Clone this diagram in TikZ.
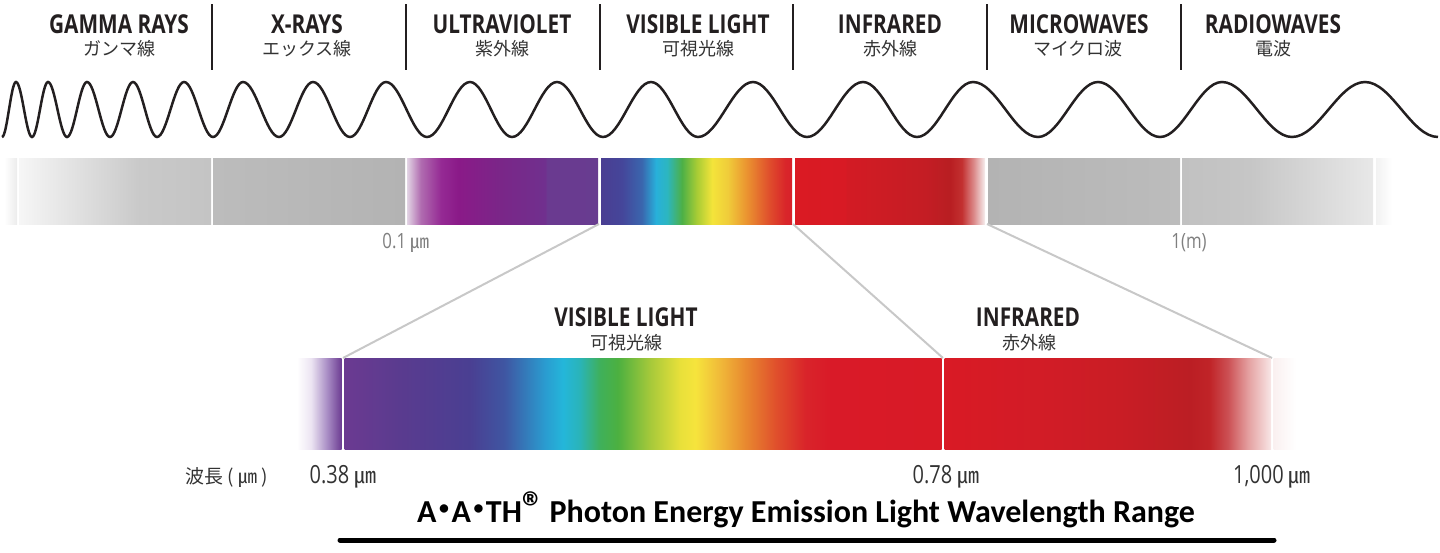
\documentclass[tikz,border=0pt]{standalone}
\usepackage{fontspec}
\newfontfamily\lblfont[FakeStretch=0.8]{Open Sans}
\newfontfamily\jpfont{Noto Sans CJK JP}
\newfontfamily\numfont[FakeStretch=0.8]{Open Sans}
\newfontfamily\ttlfont{Carlito}
\newcommand\dc[2]{\definecolor{#1}{HTML}{#2}}
\newcommand\tdot{\hspace{0.08em}\raisebox{0.22em}{\scalebox{0.62}{\textbullet}}\hspace{0.08em}}
% text colours
\dc{inkc}{231F20}\dc{jpc}{333333}\dc{greyc}{7F7F7F}\dc{connc}{C8C8C8}
% top bar
\dc{ga1}{F6F6F6}\dc{ga2}{C9C9C9}\dc{ga3}{C4C4C4}
\dc{xr1}{BCBCBC}\dc{xr2}{B3B3B3}
\dc{uv1}{E2D4E4}\dc{uv2}{B06CB0}\dc{uv3}{952A94}\dc{uv4}{8A1A88}\dc{uv5}{7A2688}\dc{uv6}{70308E}\dc{uv7}{6A3A90}\dc{uv8}{683C90}
\dc{vt01}{4A3E92}\dc{vt02}{45469A}\dc{vt03}{3A66AE}\dc{vt04}{28B0DA}\dc{vt05}{2CB6C0}\dc{vt06}{4DB046}\dc{vt07}{A8CC35}\dc{vt08}{F4E43A}\dc{vt09}{F0CC3A}\dc{vt10}{EA9030}\dc{vt11}{DF4C2C}\dc{vt12}{D9262A}\dc{vt13}{D8202A}
\dc{it1}{DA1A23}\dc{it2}{D81A24}\dc{it3}{D31B24}\dc{it4}{C41D24}\dc{it5}{B81E22}\dc{it6}{C33030}\dc{it7}{DC8C8C}\dc{it8}{F6EEEE}
\dc{mw1}{B3B3B3}\dc{mw2}{BCBCBC}
\dc{ra1}{C1C1C1}\dc{ra2}{C6C6C6}\dc{ra3}{E8E8E8}
\dc{edgeg}{ECECEC}\dc{edgeg2}{F2F2F2}
% bottom bar
\dc{bl1}{FFFFFF}\dc{bl2}{ECE4F2}\dc{bl3}{A88CC4}\dc{bl4}{6C3C92}
\dc{bv01}{6B3A91}\dc{bv02}{5A3B8F}\dc{bv03}{4A3F92}\dc{bv04}{3F56A2}\dc{bv05}{2A9CD0}\dc{bv06}{24B6DA}\dc{bv07}{2AB4B8}\dc{bv08}{3FB05A}\dc{bv09}{4CB040}\dc{bv10}{A6C93A}\dc{bv11}{E8E03A}\dc{bv12}{F6E43C}\dc{bv13}{F0B839}\dc{bv14}{E8882F}\dc{bv15}{E0502C}\dc{bv16}{D9242A}\dc{bv17}{D91A28}\dc{bv18}{D81A26}
\dc{bi1}{D91A25}\dc{bi2}{D11C26}\dc{bi3}{C91D25}\dc{bi4}{BB1E24}\dc{bi5}{C02428}\dc{bi6}{CC5054}\dc{bi7}{E4A0A0}\dc{bi8}{F8E6E6}\dc{bi9}{FAF0F0}

\pgfdeclarehorizontalshading{gammash}{100bp}{color(0bp)=(ga1); color(25bp)=(ga1); color(56.5bp)=(ga2); color(75bp)=(ga3); color(100bp)=(ga3)}
\pgfdeclarehorizontalshading{uvsh}{100bp}{color(0bp)=(uv1); color(25bp)=(uv1); color(28.6bp)=(uv2); color(33.9bp)=(uv3); color(38.5bp)=(uv4); color(49.5bp)=(uv5); color(61.2bp)=(uv6); color(61.7bp)=(uv7); color(75bp)=(uv8); color(100bp)=(uv8)}
\pgfdeclarehorizontalshading{vtopsh}{100bp}{color(0bp)=(vt01); color(25bp)=(vt01); color(30.5bp)=(vt02); color(35.7bp)=(vt03); color(39.4bp)=(vt04); color(42.3bp)=(vt05); color(46.2bp)=(vt06); color(50.1bp)=(vt07); color(54.1bp)=(vt08); color(58.2bp)=(vt09); color(63.4bp)=(vt10); color(69.2bp)=(vt11); color(73.2bp)=(vt12); color(75bp)=(vt13); color(100bp)=(vt13)}
\pgfdeclarehorizontalshading{itopsh}{100bp}{color(0bp)=(it1); color(25bp)=(it1); color(38.2bp)=(it2); color(38.7bp)=(it3); color(59.2bp)=(it4); color(65.8bp)=(it5); color(68.9bp)=(it6); color(72.1bp)=(it7); color(75bp)=(it8); color(100bp)=(it8)}
\pgfdeclarehorizontalshading{radiosh}{100bp}{color(0bp)=(ra1); color(25bp)=(ra1); color(42.8bp)=(ra2); color(75bp)=(ra3); color(100bp)=(ra3)}
\pgfdeclarehorizontalshading{blsh}{100bp}{color(0bp)=(bl1); color(25bp)=(bl1); color(40.9bp)=(bl2); color(59.1bp)=(bl3); color(75bp)=(bl4); color(100bp)=(bl4)}
\pgfdeclarehorizontalshading{bvsh}{100bp}{color(0bp)=(bv01); color(25bp)=(bv01); color(29.6bp)=(bv02); color(35.5bp)=(bv03); color(38.4bp)=(bv04); color(41.8bp)=(bv05); color(43.3bp)=(bv06); color(44.7bp)=(bv07); color(46.4bp)=(bv08); color(47.9bp)=(bv09); color(50.6bp)=(bv10); color(53.1bp)=(bv11); color(54.4bp)=(bv12); color(56.5bp)=(bv13); color(58.6bp)=(bv14); color(61.1bp)=(bv15); color(63.6bp)=(bv16); color(65.7bp)=(bv17); color(75bp)=(bv18); color(100bp)=(bv18)}
\pgfdeclarehorizontalshading{bish}{100bp}{color(0bp)=(bi1); color(25bp)=(bi1); color(41.1bp)=(bi2); color(51.8bp)=(bi3); color(62.6bp)=(bi4); color(65.6bp)=(bi5); color(68.4bp)=(bi6); color(71.5bp)=(bi7); color(75bp)=(bi8); color(100bp)=(bi8)}

\begin{document}
\begin{tikzpicture}[x=1pt,y=-1pt,
  lat/.style={font=\lblfont\bfseries\fontsize{26}{30}\selectfont, text=inkc, anchor=base, inner sep=0pt},
  jp/.style={font=\jpfont\fontsize{18}{20}\selectfont, text=jpc, anchor=base, inner sep=0pt},
  num/.style={font=\numfont\fontsize{25}{28}\selectfont, text=jpc, anchor=base, inner sep=0pt},
  smallnum/.style={font=\numfont\fontsize{21}{24}\selectfont, text=greyc, anchor=base, inner sep=0pt},
  divider/.style={draw=inkc, line width=1.8pt},
  wave/.style={draw=inkc, line width=2.5pt},
  conn/.style={draw=connc, line width=2pt},
  ttl/.style={font=\ttlfont\bfseries\fontsize{32}{36}\selectfont, text=black, anchor=base, inner sep=0pt}]
\useasboundingbox (0,0) rectangle (1440,552);

% ---- top labels
\node[lat] (l1) at (119,33) {GAMMA RAYS};
\node[jp]  (j1) at (119,55) {ガンマ線};
\node[lat] (l2) at (307,33) {X-RAYS};
\node[jp]  (j2) at (307,55) {エックス線};
\node[lat] (l3) at (502,33) {ULTRAVIOLET};
\node[jp]  (j3) at (502,55) {紫外線};
\node[lat] (l4) at (698,33) {VISIBLE LIGHT};
\node[jp]  (j4) at (698,55) {可視光線};
\node[lat] (l5) at (890,33) {INFRARED};
\node[jp]  (j5) at (890,55) {赤外線};
\node[lat] (l6) at (1079,33) {MICROWAVES};
\node[jp]  (j6) at (1078,55) {マイクロ波};
\node[lat] (l7) at (1273,33) {RADIOWAVES};
\node[jp]  (j7) at (1273,55) {電波};
\foreach \x in {212,406,600,793,987,1181}{\draw[divider] (\x,4) -- (\x,70);}

% ---- wave
\draw[wave] (2,137) cos (9,109.5) sin (16,82) cos (24,109.5) sin (32,137) cos (40,109.5) sin (48,82) cos (57.5,109.5) sin (67,137) cos (77,109.5) sin (87,82) cos (98.5,109.5) sin (110,137) cos (121.5,109.5) sin (133,82) cos (145,109.5) sin (157,137) cos (170.5,109.5) sin (184,82) cos (198.5,109.5) sin (213,137) cos (228,109.5) sin (243,82) cos (261,109.5) sin (279,137) cos (296,109.5) sin (313,82) cos (331.5,109.5) sin (350,137) cos (368,109.5) sin (386,82) cos (406.5,109.5) sin (427,137) cos (448.5,109.5) sin (470,82) cos (491,109.5) sin (512,137) cos (534.5,109.5) sin (557,82) cos (580,109.5) sin (603,137) cos (627,109.5) sin (651,82) cos (674.5,109.5) sin (698,137) cos (725.5,109.5) sin (753,82) cos (780,109.5) sin (807,137) cos (835,109.5) sin (863,82) cos (890,109.5) sin (917,137) cos (945,109.5) sin (973,82) cos (1005.5,109.5) sin (1038,137) cos (1068,109.5) sin (1098,82) cos (1129,109.5) sin (1160,137) cos (1191,109.5) sin (1222,82) cos (1257,109.5) sin (1292,137) cos (1328.5,109.5) sin (1365,82) cos (1401.5,109.5) sin (1438,137);

% ---- top spectrum bar
\path[left color=white, right color=edgeg] (4,158) rectangle (17,224);
\path[shading=gammash] (19,158) rectangle (211,224);
\path[left color=xr1, right color=xr2] (213,158) rectangle (405,224);
\path[shading=uvsh] (407,158) rectangle (598,224);
\path[shading=vtopsh] (601,158) rectangle (792,224);
\path[shading=itopsh] (795,158) rectangle (985,224);
\path[left color=mw1, right color=mw2] (988,158) rectangle (1180,224);
\path[shading=radiosh] (1182,158) rectangle (1373,224);
\path[left color=edgeg2, right color=white] (1376,158) rectangle (1392,224);

\node[smallnum] (n01) at (406,248) {0.1 {\jpfont\fontsize{19}{20}\selectfont ㎛}};
\node[smallnum] (n1m) at (1189,248) {1(m)};

% ---- connectors
\coordinate (tv) at (599,224);
\coordinate (ti) at (793,224);
\coordinate (tm) at (987,224);
\coordinate (bv) at (343,358);
\coordinate (bi) at (943,358);
\coordinate (be) at (1272,358);
\draw[conn] (tv) -- (bv);
\draw[conn] (ti) -- (bi);
\draw[conn] (tm) -- (be);

% ---- bottom labels
\node[lat] (l8) at (626,326) {VISIBLE LIGHT};
\node[jp]  (j8) at (626,349) {可視光線};
\node[lat] (l9) at (1028,326) {INFRARED};
\node[jp]  (j9) at (1029,349) {赤外線};

% ---- bottom spectrum bar
\path[shading=blsh] (297,358.5) rectangle (341.5,449.5);
\path[shading=bvsh] (344.5,358.5) rectangle (941.5,449.5);
\path[shading=bish] (944.5,358.5) rectangle (1271,449.5);
\path[left color=bi9, right color=white] (1273.5,358.5) rectangle (1296,449.5);

% ---- wavelength labels
\node[jp, font=\jpfont\fontsize{19}{20}\selectfont] (wl) at (227,483) {波長 ( ㎛ )};
\node[num] (w1) at (343,483) {0.38 {\jpfont\fontsize{22}{22}\selectfont ㎛}};
\node[num] (w2) at (946,483) {0.78 {\jpfont\fontsize{22}{22}\selectfont ㎛}};
\node[num] (w3) at (1272,483) {1,000 {\jpfont\fontsize{22}{22}\selectfont ㎛}};

% ---- title
\node[ttl] (title) at (806,522) {A\tdot A\tdot TH{\fontsize{44}{44}\selectfont ®}\,Photon Energy Emission Light Wavelength Range};
\coordinate (ul) at (340,540);
\coordinate (ur) at (1274,540);
\draw[line width=5pt, line cap=round] (ul) -- (ur);
\end{tikzpicture}
\end{document}
